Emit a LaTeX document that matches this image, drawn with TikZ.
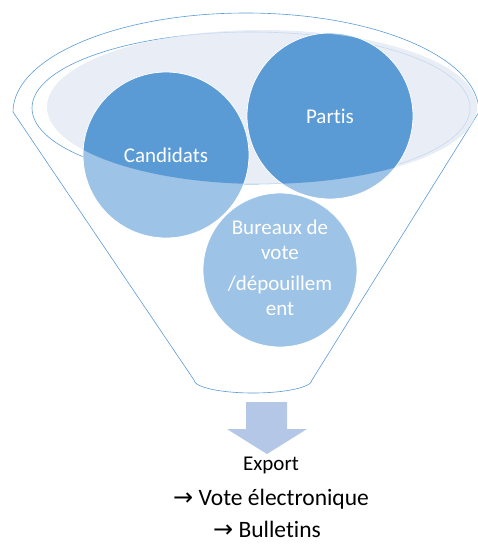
\documentclass[tikz,border=0pt]{standalone}
\usepackage{fontspec}
\setmainfont{Carlito}[Ligatures=NoCommon]
\newfontfamily\arrowfont{DejaVu Sans}
\usepackage{tikz}
\usetikzlibrary{positioning}
\definecolor{darkblue}{HTML}{5B9BD5}
\definecolor{lightblue}{HTML}{9DC3E6}
\definecolor{paleblue}{HTML}{E2E9F4}
\definecolor{arrowblue}{HTML}{B4C7E7}

\begin{document}
\begin{tikzpicture}[x=1pt, y=-1pt, funnel/.style={draw=darkblue, line width=0.6pt},
	disc/.style={circle, minimum size=166pt, inner sep=0pt, align=center, text=white,
	font=\fontsize{21}{25}\selectfont},
	label/.style={font=\fontsize{23.5}{28}\selectfont, text=black, inner sep=0pt, anchor=base}]
\useasboundingbox (0,0) rectangle (478,544);
% funnel outline
\draw[funnel] (13,112) arc[start angle=180, end angle=360, x radius=233, y radius=99]
	-- (312,380) arc[start angle=0, end angle=180, x radius=59, y radius=13] -- cycle;
\draw[funnel] (251,108) ellipse[x radius=219, y radius=76];
\fill[paleblue, opacity=0.8] (262,107) ellipse[x radius=215, y radius=77];
% circles
\fill[lightblue] (166,155) circle[radius=83];
\fill[lightblue] (330,116) circle[radius=83];
\fill[lightblue] (280,270) circle[radius=77];
\begin{scope}
\clip (262,107) ellipse[x radius=215, y radius=77];
\fill[darkblue] (166,155) circle[radius=83];
\fill[darkblue] (330,116) circle[radius=83];
\end{scope}
\draw[white, line width=0.8pt] (166,155) circle[radius=83];
\draw[white, line width=0.8pt] (330,116) circle[radius=83];
\draw[white, line width=0.8pt] (280,270) circle[radius=77];
\node[disc] (cand) at (166,155) {Candidats};
\node[disc] (partis) at (330,116) {Partis};
\node[disc, minimum size=154pt] (bureaux) at (280,268)
	{Bureaux de\\vote\\[6pt]/dépouillem\\ent};
% export arrow
\fill[arrowblue] (246,402) -- (287,402) -- (287,429) -- (307,429) -- (267,454)
	-- (227,429) -- (246,429) -- cycle;
\node[label, font=\fontsize{21}{25}\selectfont] (export) at (271,470) {Export};
\node[label] (vote) at (271,505) {{\arrowfont\fontsize{24}{26}\selectfont →} Vote électronique};
\node[label] (bull) at (267,537) {{\arrowfont\fontsize{24}{26}\selectfont →} Bulletins};
\end{tikzpicture}
\end{document}
